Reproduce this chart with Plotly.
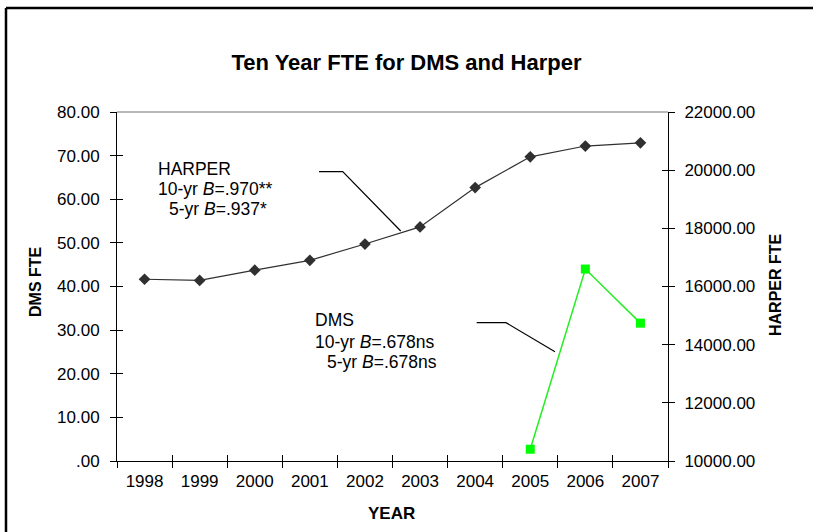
import plotly.graph_objects as go

years = ["1998", "1999", "2000", "2001", "2002", "2003", "2004", "2005", "2006", "2007"]
harper_fte = [16250, 16210, 16560, 16900, 17460, 18050, 19400, 20460, 20830, 20940]
dms_years = ["2005", "2006", "2007"]
dms_fte = [2.7, 44.0, 31.6]

left_ticks = [0, 10, 20, 30, 40, 50, 60, 70, 80]
left_ticktext = [".00", "10.00", "20.00", "30.00", "40.00", "50.00", "60.00", "70.00", "80.00"]
right_ticks = [10000, 12000, 14000, 16000, 18000, 20000, 22000]
right_ticktext = ["10000.00", "12000.00", "14000.00", "16000.00", "18000.00", "20000.00", "22000.00"]

W, H = 813, 532
L, R, T, B = 117, 145, 112, 71
pw, ph = W - L - R, H - T - B


def px(x):
    return (x - L) / pw


def py(y):
    return (H - B - y) / ph


FONT = "Liberation Sans, Arial, sans-serif"
TF = 17

fig = go.Figure()

fig.add_trace(go.Scatter(
    x=years, y=harper_fte, xaxis="x", yaxis="y2", mode="lines+markers",
    line=dict(color="#303030", width=1.2),
    marker=dict(symbol="diamond", size=9, color="#303030"),
    showlegend=False, hoverinfo="skip"))

fig.add_trace(go.Scatter(
    x=dms_years, y=dms_fte, xaxis="x", yaxis="y", mode="lines+markers",
    line=dict(color="#22ee22", width=1.5),
    marker=dict(symbol="square", size=9, color="#00ff00"),
    showlegend=False, hoverinfo="skip"))

# helper traces for inside (crossing) ticks
fig.add_trace(go.Scatter(x=years, y=[None] * len(years), xaxis="x2", yaxis="y3",
                         mode="lines", showlegend=False, hoverinfo="skip"))
fig.add_trace(go.Scatter(x=years, y=[None] * len(years), xaxis="x2", yaxis="y4",
                         mode="lines", showlegend=False, hoverinfo="skip"))

common_x = dict(type="category", categoryorder="array", categoryarray=years,
                range=[-0.5, len(years) - 0.5], tickson="boundaries",
                ticklen=6, tickwidth=1, tickcolor="black", showgrid=False,
                zeroline=False, fixedrange=True)

fig.update_layout(
    width=W, height=H,
    margin=dict(l=L, r=R, t=T, b=B, pad=0),
    paper_bgcolor="white", plot_bgcolor="white",
    font=dict(family=FONT, size=TF, color="black"),
    title=dict(text="<b>Ten Year FTE for DMS and Harper</b>", x=0.5, xanchor="center",
               y=1 - 62 / H, yanchor="middle", font=dict(family=FONT, size=22, color="black")),
    xaxis=dict(**common_x, ticks="outside", showline=True, linecolor="black", linewidth=1,
               tickfont=dict(family=FONT, size=TF, color="black"), ticklabelstandoff=5),
    xaxis2=dict(**common_x, overlaying="x", ticks="inside", showticklabels=False, showline=False),
    yaxis=dict(range=[0, 80], tickvals=left_ticks, ticktext=left_ticktext, ticks="outside",
               ticklen=6, tickcolor="black", showline=True, linecolor="black", linewidth=1,
               showgrid=False, zeroline=False, tickfont=dict(family=FONT, size=TF, color="black"),
               ticklabelstandoff=7),
    yaxis2=dict(range=[10000, 22000], tickvals=right_ticks, ticktext=right_ticktext,
                overlaying="y", side="right", ticks="outside", ticklen=6, tickcolor="black",
                showline=True, linecolor="black", linewidth=1, showgrid=False, zeroline=False,
                tickfont=dict(family=FONT, size=TF, color="black"), ticklabelstandoff=6),
    yaxis3=dict(range=[0, 80], tickvals=left_ticks, overlaying="y", side="left", ticks="inside",
                ticklen=6, tickcolor="black", showticklabels=False, showline=False,
                showgrid=False, zeroline=False),
    yaxis4=dict(range=[10000, 22000], tickvals=right_ticks, overlaying="y", side="right",
                ticks="inside", ticklen=6, tickcolor="black", showticklabels=False,
                showline=False, showgrid=False, zeroline=False),
)

shapes = [
    # plot top line (gray)
    dict(type="line", xref="paper", yref="paper", x0=0, x1=1, y0=1, y1=1,
         line=dict(color="#a0a0a0", width=1.5)),
    # outer chart border (top and left)
    dict(type="line", xref="paper", yref="paper", x0=px(6), x1=px(W), y0=py(8), y1=py(8),
         line=dict(color="black", width=2.5)),
    dict(type="line", xref="paper", yref="paper", x0=px(6), x1=px(6), y0=py(8), y1=py(H),
         line=dict(color="black", width=2.5)),
    # callout leaders
    dict(type="path", xref="paper", yref="paper",
         path=f"M {px(319)} {py(171.7)} L {px(342.7)} {py(171.7)} L {px(400.7)} {py(231)}",
         line=dict(color="black", width=1.2)),
    dict(type="path", xref="paper", yref="paper",
         path=f"M {px(476.7)} {py(322.7)} L {px(506)} {py(322.7)} L {px(555)} {py(351.7)}",
         line=dict(color="black", width=1.2)),
]
fig.update_layout(shapes=shapes)

AF = 17.5
annots = [
    ("HARPER", 156, 168.5),
    ("10-yr <i>B</i>=.970**", 156, 189),
    ("5-yr <i>B</i>=.937*", 167, 209),
    ("DMS", 313, 320),
    ("10-yr <i>B</i>=.678ns", 313, 341.7),
    ("5-yr <i>B</i>=.678ns", 325, 361.7),
]
for text, x, y in annots:
    fig.add_annotation(text=text, xref="paper", yref="paper", x=px(x), y=py(y),
                       xanchor="left", yanchor="middle", showarrow=False,
                       font=dict(family=FONT, size=AF, color="black"))

fig.add_annotation(text="<b>DMS FTE</b>", xref="paper", yref="paper", x=px(35), y=py(282),
                   textangle=-90, xanchor="center", yanchor="middle", showarrow=False,
                   font=dict(family=FONT, size=16, color="black"))
fig.add_annotation(text="<b>HARPER FTE</b>", xref="paper", yref="paper", x=px(775), y=py(285),
                   textangle=-90, xanchor="center", yanchor="middle", showarrow=False,
                   font=dict(family=FONT, size=16, color="black"))
fig.add_annotation(text="<b>YEAR</b>", xref="paper", yref="paper", x=px(391.7), y=py(513),
                   xanchor="center", yanchor="middle", showarrow=False,
                   font=dict(family=FONT, size=17, color="black"))

fig.write_html("out.html", config={"displayModeBar": False},
               post_script="document.body.style.margin='0px';document.body.style.overflow='hidden';")
